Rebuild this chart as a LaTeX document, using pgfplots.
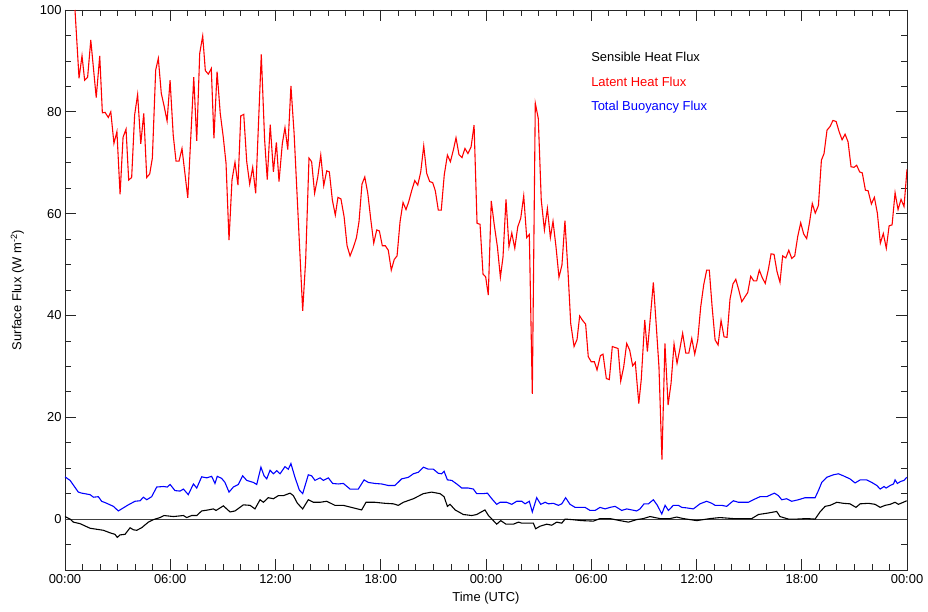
\documentclass[border=0pt]{standalone}
\usepackage{pgfplots}
\pgfplotsset{compat=1.18}
\usepackage{fontspec}
\setmainfont{Liberation Sans}
\definecolor{lhred}{RGB}{255,0,0}
\definecolor{tbblue}{RGB}{0,0,255}
\begin{document}
\begin{tikzpicture}
\begin{axis}[
  scale only axis,
  width=842bp, height=560bp,
  xmin=0, xmax=48, ymin=-10, ymax=100,
  xtick={0,6,...,48},
  xticklabels={00:00,06:00,12:00,18:00,00:00,06:00,12:00,18:00,00:00},
  minor xtick={0,1,...,48},
  ytick={0,20,...,100},
  minor ytick={-10,-5,...,100},
  major tick length=11bp, minor tick length=6bp,
  tick style={black!85, line width=0.7pt},
  axis line style={black!85, line width=0.8pt},
  /pgf/number format/assume math mode=true,
  tick label style={font=\fontsize{13}{15}\selectfont},
  label style={font=\fontsize{13}{15}\selectfont},
  xlabel={Time (UTC)},
  ylabel={Surface Flux (W m\textsuperscript{-2})},
  xlabel style={yshift=-2bp},
  ylabel style={yshift=9bp},
  xticklabel style={yshift=-1bp},
  clip=true,
]
\addplot[black!75, line width=0.8pt, forget plot] coordinates {(0,0) (48,0)};
\addplot[lhred, line width=1.1pt] table {
0.57 100.0
0.80 86.6
0.97 91.0
1.12 86.2
1.29 86.8
1.47 94.1
1.78 82.8
1.98 91.0
2.13 79.8
2.28 79.9
2.47 78.9
2.61 80.0
2.79 73.8
2.96 76.1
3.14 63.8
3.31 75.0
3.48 76.6
3.63 66.6
3.80 67.1
3.97 79.4
4.14 83.4
4.32 73.7
4.49 79.7
4.66 67.1
4.83 67.8
4.98 70.9
5.17 88.2
5.32 90.5
5.49 83.6
5.64 81.3
5.82 78.2
5.99 86.2
6.17 75.4
6.33 70.3
6.50 70.3
6.67 72.8
7.00 63.1
7.34 86.8
7.51 74.3
7.68 91.5
7.85 94.9
8.00 88.1
8.17 87.4
8.34 88.5
8.49 74.8
8.67 87.9
8.85 79.7
9.02 75.1
9.18 69.9
9.35 54.8
9.52 66.6
9.69 70.1
9.86 65.6
10.02 79.2
10.19 79.5
10.36 70.2
10.53 65.8
10.70 69.1
10.87 64.0
11.19 91.3
11.38 74.5
11.53 66.7
11.70 77.5
11.88 68.2
12.05 74.0
12.20 66.3
12.39 73.8
12.54 76.9
12.70 72.6
12.88 85.1
13.06 75.8
13.55 40.9
13.72 50.9
13.91 70.9
14.06 70.2
14.23 64.0
14.41 67.2
14.58 71.5
14.75 65.5
14.92 68.4
15.07 68.2
15.24 62.7
15.41 59.7
15.56 63.2
15.73 62.9
15.91 59.4
16.08 53.7
16.25 51.7
16.42 53.2
16.61 55.2
16.76 58.4
16.93 65.8
17.09 67.2
17.26 64.0
17.43 58.9
17.60 54.2
17.77 56.8
17.92 56.6
18.09 53.7
18.26 53.7
18.43 52.8
18.60 48.9
18.77 51.0
18.93 51.7
19.10 58.4
19.27 62.2
19.44 60.8
19.59 62.3
19.77 64.6
19.94 66.5
20.11 65.6
20.28 68.2
20.45 73.3
20.62 67.9
20.79 66.3
20.96 66.1
21.11 64.5
21.28 60.7
21.45 60.7
21.62 67.6
21.80 71.5
21.97 70.2
22.14 72.5
22.29 74.9
22.46 71.6
22.63 71.0
22.80 72.8
22.97 71.8
23.15 73.1
23.32 77.4
23.49 58.1
23.66 57.9
23.83 48.1
23.98 47.6
24.13 44.0
24.30 62.5
24.47 57.8
24.65 53.5
24.82 47.5
24.97 51.5
25.14 62.8
25.31 53.5
25.47 56.2
25.64 53.2
25.81 57.4
25.98 59.1
26.15 63.5
26.32 55.3
26.47 55.9
26.64 24.6
26.81 81.7
26.98 78.7
27.15 62.7
27.33 56.8
27.50 61.0
27.67 55.3
27.82 58.5
27.99 53.5
28.16 47.5
28.33 49.9
28.50 58.6
28.68 48.3
28.83 38.4
29.02 33.9
29.19 35.3
29.34 39.9
29.51 39.0
29.68 38.3
29.83 31.9
30.00 30.9
30.18 30.9
30.33 29.3
30.52 32.1
30.67 32.4
30.86 27.6
31.03 27.4
31.20 33.9
31.37 33.7
31.53 33.5
31.68 27.1
31.85 29.9
32.02 34.5
32.19 33.2
32.36 30.1
32.51 30.8
32.71 22.7
32.85 27.4
33.05 39.1
33.20 32.9
33.37 39.7
33.54 46.5
33.71 37.8
33.86 29.9
34.03 11.7
34.20 34.5
34.38 22.4
34.55 26.7
34.72 34.4
34.89 30.6
35.04 33.2
35.21 36.5
35.39 32.6
35.56 32.6
35.73 35.5
35.90 32.4
36.07 35.2
36.24 41.7
36.41 46.0
36.58 48.9
36.73 48.9
36.89 41.7
37.06 35.2
37.23 34.2
37.40 39.0
37.57 35.8
37.74 35.7
37.91 43.2
38.08 46.2
38.24 47.1
38.41 45.0
38.58 42.7
38.75 43.6
38.92 44.5
39.09 47.7
39.26 46.8
39.43 46.8
39.58 48.9
39.75 47.4
39.92 46.3
40.10 49.1
40.25 52.1
40.42 52.0
40.59 48.6
40.76 46.5
40.91 51.7
41.09 51.3
41.26 52.8
41.43 51.2
41.60 51.7
41.77 55.5
41.94 58.2
42.11 56.0
42.28 55.1
42.45 58.4
42.60 62.0
42.77 60.1
42.95 61.6
43.12 70.5
43.27 71.8
43.44 76.4
43.61 77.1
43.78 78.3
43.96 78.1
44.13 76.1
44.30 74.5
44.47 75.6
44.64 74.1
44.81 69.2
44.98 69.1
45.13 69.5
45.30 68.2
45.45 68.0
45.63 64.6
45.78 64.5
45.97 61.9
46.14 63.2
46.31 60.1
46.48 54.2
46.65 56.1
46.82 53.2
46.98 57.6
47.15 57.8
47.32 64.1
47.49 60.8
47.66 62.8
47.83 61.4
48.00 68.7
};
\addplot[tbblue, line width=1.1pt] table {
0.00 8.3
0.29 7.6
0.76 5.3
0.95 5.1
1.43 4.8
1.62 4.3
1.90 4.4
2.09 3.5
2.38 3.1
2.76 2.5
3.04 1.6
3.23 2.0
3.61 2.8
3.99 3.5
4.28 3.6
4.47 4.3
4.66 3.8
4.94 4.4
5.23 6.3
5.61 6.4
5.83 6.3
5.99 6.8
6.27 5.6
6.56 5.5
6.75 5.9
7.03 4.8
7.32 6.9
7.51 6.1
7.79 8.3
8.08 8.1
8.36 8.4
8.55 7.0
8.68 8.4
8.93 8.0
9.12 7.2
9.35 5.3
9.60 6.3
9.88 6.8
10.13 8.5
10.36 7.6
10.74 7.2
10.93 6.8
11.17 10.2
11.35 8.5
11.50 7.9
11.69 9.6
11.88 8.9
12.07 9.5
12.26 8.9
12.54 10.3
12.73 9.8
12.88 10.9
13.11 8.2
13.36 5.7
13.55 5.0
13.87 8.7
14.06 8.5
14.25 7.6
14.54 8.1
14.73 7.6
15.01 8.1
15.26 7.0
15.58 6.9
15.87 7.0
16.25 5.9
16.72 5.9
17.05 7.7
17.29 7.2
17.67 7.0
18.05 6.9
18.43 6.6
18.81 6.6
19.19 7.9
19.57 8.2
19.86 8.9
20.14 9.2
20.43 10.2
20.71 9.8
21.00 9.8
21.28 9.0
21.47 8.9
21.61 9.4
21.80 7.7
22.05 7.6
22.33 6.9
22.62 6.1
22.99 6.1
23.28 5.9
23.47 5.0
23.85 5.0
24.08 5.1
24.33 4.0
24.61 2.9
24.80 3.3
25.18 3.3
25.47 2.9
25.75 3.5
26.04 3.5
26.23 3.0
26.47 3.5
26.64 1.4
26.89 4.2
27.12 2.9
27.37 3.3
27.56 3.0
27.84 3.1
28.13 2.7
28.32 3.0
28.54 4.2
28.79 2.9
29.08 2.3
29.36 2.3
29.65 2.3
29.93 1.7
30.22 1.7
30.50 2.3
30.79 2.0
31.07 2.3
31.36 2.5
31.74 1.7
32.02 2.0
32.31 1.8
32.59 1.6
32.78 2.0
33.01 3.0
33.26 3.0
33.54 3.8
33.77 2.7
34.02 1.0
34.21 2.7
34.40 1.7
34.68 2.7
34.97 2.7
35.16 2.3
35.44 2.2
35.82 2.0
36.20 3.0
36.58 3.5
36.87 3.1
37.06 2.7
37.44 2.7
37.72 2.5
38.10 3.6
38.39 3.3
38.67 3.3
38.96 3.3
39.24 3.8
39.62 4.4
40.00 4.4
40.44 5.1
40.67 4.6
40.86 3.8
41.14 4.0
41.43 3.5
41.81 3.8
42.19 4.2
42.76 4.2
42.95 5.6
43.14 7.2
43.42 8.2
43.80 8.7
44.09 8.9
44.37 8.5
44.75 7.9
45.04 7.1
45.33 7.7
45.70 7.7
45.99 7.2
46.28 6.6
46.47 5.9
46.69 6.4
46.81 6.1
47.04 6.6
47.23 6.9
47.32 7.7
47.45 7.0
47.64 7.4
47.83 7.6
47.98 8.2
};
\addplot[black, line width=1.1pt] table {
0.00 0.5
0.29 0.0
0.48 -0.6
0.86 -0.9
1.43 -1.8
1.81 -2.0
2.19 -2.2
2.57 -2.7
2.85 -3.0
2.98 -3.6
3.14 -3.1
3.42 -3.0
3.71 -1.7
3.90 -2.1
4.09 -2.2
4.37 -1.7
4.75 -0.6
5.04 -0.1
5.42 0.3
5.64 0.7
6.18 0.5
6.75 0.7
6.94 0.3
7.22 0.7
7.51 0.7
7.79 1.6
8.17 1.8
8.46 2.0
8.61 1.7
9.03 2.6
9.41 1.4
9.69 1.6
10.17 2.8
10.55 2.7
10.83 2.0
11.12 3.8
11.31 3.3
11.59 4.2
11.88 4.0
12.16 4.6
12.45 4.6
12.83 5.1
13.02 4.6
13.25 3.1
13.55 2.0
13.87 3.8
14.16 3.3
14.54 3.3
14.92 3.5
15.39 2.7
15.87 2.7
16.44 2.2
16.91 1.8
17.16 3.3
17.67 3.3
18.24 3.1
18.72 3.0
19.00 2.7
19.29 3.3
19.86 4.0
20.43 5.0
20.90 5.3
21.38 5.0
21.61 4.4
21.80 2.5
21.95 2.9
22.24 1.8
22.71 0.9
23.19 0.7
23.47 0.9
23.94 1.8
24.14 0.7
24.42 -0.3
24.61 -1.0
24.84 -0.3
25.14 -1.0
25.56 -1.0
25.85 -0.6
26.04 -0.8
26.51 -0.8
26.70 -0.8
26.83 -1.9
27.08 -1.4
27.46 -1.0
27.75 -1.2
28.03 -0.6
28.32 -0.8
28.51 0.0
28.89 -0.1
29.46 -0.3
30.12 -0.4
30.50 0.1
31.07 0.1
31.64 -0.3
32.12 -0.6
32.59 -0.1
32.97 0.1
33.35 0.5
33.92 0.1
34.49 0.1
34.87 0.4
35.25 0.1
36.01 -0.3
36.77 0.1
37.34 0.3
38.10 0.1
38.67 0.1
39.15 0.1
39.53 0.9
40.10 1.2
40.57 1.5
40.76 0.5
41.24 0.0
41.71 0.0
42.28 0.1
42.76 0.0
43.04 1.4
43.33 2.5
43.62 2.7
44.00 3.3
44.37 3.1
44.75 3.0
45.09 2.3
45.33 3.0
45.80 3.1
46.18 2.9
46.47 2.3
46.75 2.7
47.04 2.9
47.32 3.3
47.51 2.9
47.79 3.3
47.98 3.6
};
\node[anchor=west, font=\fontsize{13}{15}\selectfont, text=black] at (axis cs:29.8,90.8) {Sensible Heat Flux};
\node[anchor=west, font=\fontsize{13}{15}\selectfont, text=lhred] at (axis cs:29.8,85.9) {Latent Heat Flux};
\node[anchor=west, font=\fontsize{13}{15}\selectfont, text=tbblue] at (axis cs:29.8,80.9) {Total Buoyancy Flux};
\end{axis}
\path (current axis.south west) ++(-65bp,-42bp) coordinate (bbA);
\path (current axis.north east) ++(21bp,10bp) coordinate (bbB);
\path[use as bounding box] (bbA) rectangle (bbB);
\end{tikzpicture}
\end{document}
